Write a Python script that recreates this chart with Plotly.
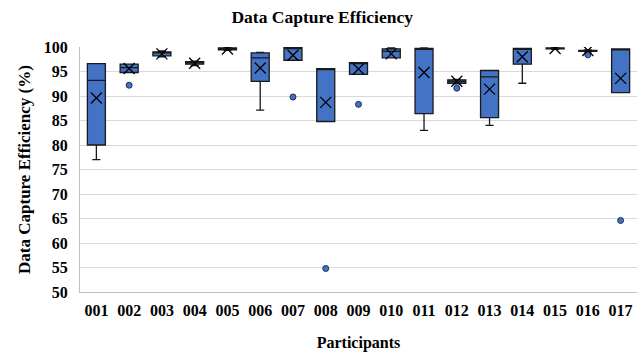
import plotly.graph_objects as go

participants = ["001","002","003","004","005","006","007","008","009","010","011","012","013","014","015","016","017"]
q1 =        [80.0, 94.8, 98.2, 96.5, 99.4, 93.0, 97.3, 84.8, 94.4, 97.8, 86.4, 92.6, 85.6, 96.5, 99.6, 99.1, 90.7]
median =    [93.2, 95.8, 98.8, 96.8, 99.7, 97.8, 99.8, 95.5, 96.7, 99.1, 99.5, 93.0, 93.9, 99.6, 99.7, 99.2, 99.5]
q3 =        [96.6, 96.5, 99.0, 97.0, 99.8, 98.8, 99.9, 95.6, 96.8, 99.6, 99.7, 93.3, 95.2, 99.7, 99.8, 99.3, 99.6]
lowerfence = [77.0, 94.8, 98.0, 96.2, 99.3, 87.1, 97.3, 84.8, 94.4, 97.8, 83.0, 92.5, 84.0, 92.6, 99.5, 99.0, 90.7]
upperfence = [96.6, 96.5, 99.2, 97.1, 99.9, 98.9, 100.0, 95.6, 96.8, 99.8, 99.8, 93.4, 95.2, 99.7, 99.9, 99.4, 99.6]
means =     [89.6, 95.6, 98.6, 96.7, 99.6, 95.7, 98.3, 88.7, 95.5, 98.6, 94.8, 93.0, 91.4, 98.0, 99.7, 99.3, 93.6]

outlier_x = ["002", "007", "008", "009", "012", "016", "017"]
outlier_y = [92.2, 89.8, 54.8, 88.3, 91.6, 98.4, 64.6]

y_ticks = [50, 55, 60, 65, 70, 75, 80, 85, 90, 95, 100]

font_family = "Liberation Serif, Times New Roman, serif"

fig = go.Figure()
fig.add_trace(go.Box(
    x=participants, q1=q1, median=median, q3=q3,
    lowerfence=lowerfence, upperfence=upperfence,
    boxpoints=False, width=0.55, whiskerwidth=0.45,
    fillcolor="#4472C4", line=dict(color="#1a1a1a", width=1.3),
    showlegend=False, hoverinfo="skip",
))
fig.add_trace(go.Scatter(
    x=outlier_x, y=outlier_y, mode="markers",
    marker=dict(symbol="circle", size=6, color="#4472C4", line=dict(color="#1f2f4f", width=1)),
    showlegend=False,
))
fig.add_trace(go.Scatter(
    x=participants, y=means, mode="markers",
    marker=dict(symbol="x-thin", size=11, color="black", line=dict(color="black", width=1.3)),
    showlegend=False,
))

fig.update_layout(
    width=638, height=353,
    margin=dict(l=80, r=1, t=47, b=61),
    paper_bgcolor="white", plot_bgcolor="white",
    font=dict(family=font_family, color="black"),
    title=dict(text="<b>Data Capture Efficiency</b>", x=0.505, xref="container", y=0.952, yanchor="middle",
               font=dict(size=17.5, family=font_family, color="black")),
)
fig.update_xaxes(
    type="category", categoryorder="array", categoryarray=participants,
    tickvals=participants, ticktext=[f"<b>{p}</b>" for p in participants],
    tickfont=dict(size=16, family=font_family, color="black"),
    showline=True, linecolor="#bfbfbf", linewidth=1,
    showgrid=False, ticks="outside", ticklen=4, tickcolor="rgba(0,0,0,0)",
    title=dict(text="<b>Participants</b>", font=dict(size=16, family=font_family, color="black"), standoff=18),
    range=[-0.5, 16.5],
)
fig.update_yaxes(
    range=[50, 100], tickvals=y_ticks, ticktext=[f"<b>{t}</b>" for t in y_ticks],
    tickfont=dict(size=16, family=font_family, color="black"),
    showline=True, linecolor="#bfbfbf", linewidth=1,
    showgrid=True, gridcolor="#d9d9d9", gridwidth=1, zeroline=False,
    ticks="outside", ticklen=8, tickcolor="rgba(0,0,0,0)",
    title=dict(text="<b>Data Capture Efficiency (%)</b>", font=dict(size=17, family=font_family, color="black"), standoff=8),
)

fig.write_html("out.html", config={"displayModeBar": False},
               post_script="document.body.style.margin='0';document.body.style.padding='0';")
